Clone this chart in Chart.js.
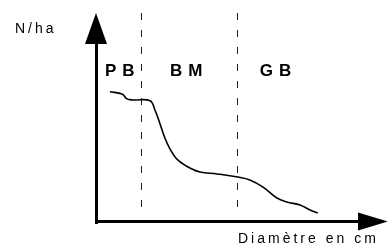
<!DOCTYPE html>
<html>
<head>
<meta charset="utf-8">
<script src="https://cdn.jsdelivr.net/npm/chart.js@4.4.1/dist/chart.umd.min.js"></script>
<style>
  html, body { margin: 0; padding: 0; background: #fff; }
  canvas { display: block; }
</style>
</head>
<body>
<canvas id="chart" width="387" height="244"></canvas>
<script>
// diameter (cm) and stem density (N/ha)
const diameters = [7.6, 11.4, 12.9, 14.8, 20.1, 21.6, 23.2, 24.7, 26.3, 28.1, 30.3, 32.5, 35.6, 40.9, 47.4, 51.1, 55.2, 59.5, 62.6, 66.7, 69.8, 72.2];
const stemsPerHa = [623, 612, 589, 584, 580, 536, 469, 402, 349, 306, 278, 258, 239, 230, 215, 201, 167, 115, 96, 81, 57, 43];

// size classes: petits bois, bois moyens, gros bois
const classLabels = ['PB', 'BM', 'GB'];
const classLimits = [17.5, 47.5];

const yTitle = 'N/ha';
const xTitle = 'Diamètre en cm';

// Draws the hand-made axes with arrows, dashed class limits and the texts
const sketchAxes = {
    id: 'sketchAxes',
    beforeDatasetsDraw(chart) {
        const { ctx, chartArea: a, scales: { x } } = chart;
        ctx.save();
        ctx.strokeStyle = '#222';
        ctx.lineWidth = 1;
        ctx.setLineDash([7, 10]);
        classLimits.forEach(v => {
            const px = Math.round(x.getPixelForValue(v)) - 0.5;
            ctx.beginPath();
            ctx.moveTo(px, a.top);
            ctx.lineTo(px, a.bottom - 5);
            ctx.stroke();
        });
        ctx.restore();
    },
    afterDatasetsDraw(chart, args, opts) {
        const { ctx, chartArea: a, scales: { x, y } } = chart;
        ctx.save();
        ctx.fillStyle = '#000';
        ctx.strokeStyle = '#000';
        ctx.lineWidth = 3;

        // y axis + arrow head
        ctx.beginPath();
        ctx.moveTo(a.left + 0.5, a.bottom + 2);
        ctx.lineTo(a.left + 0.5, a.top + 30);
        ctx.stroke();
        ctx.beginPath();
        ctx.moveTo(a.left - 11, a.top + 31);
        ctx.lineTo(a.left + 11, a.top + 31);
        ctx.lineTo(a.left, a.top);
        ctx.closePath();
        ctx.fill();

        // x axis + arrow head
        ctx.beginPath();
        ctx.moveTo(a.left - 1, a.bottom - 0.5);
        ctx.lineTo(a.right - 28, a.bottom - 0.5);
        ctx.stroke();
        ctx.beginPath();
        ctx.moveTo(a.right - 29, a.bottom - 9.5);
        ctx.lineTo(a.right - 29, a.bottom + 8.5);
        ctx.lineTo(a.right + 1, a.bottom - 0.5);
        ctx.closePath();
        ctx.fill();

        // axis titles
        ctx.font = '14px "Liberation Sans", Arial, sans-serif';
        ctx.letterSpacing = '3px';
        ctx.textBaseline = 'alphabetic';
        ctx.textAlign = 'left';
        ctx.fillText(yTitle, 15, 33);
        ctx.fillText(xTitle, 238, 243);

        // size class labels
        ctx.font = 'bold 17px "Liberation Sans", Arial, sans-serif';
        ctx.letterSpacing = '6px';
        classLabels.forEach((t, i) => {
            ctx.fillText(t, x.getPixelForValue(opts.labelX[i]), y.getPixelForValue(opts.labelY));
        });
        ctx.restore();
    }
};

new Chart(document.getElementById('chart').getContext('2d'), {
    type: 'line',
    data: {
        datasets: [{
            data: diameters.map((d, i) => ({ x: d, y: stemsPerHa[i] })),
            borderColor: '#000',
            borderWidth: 1.6,
            pointRadius: 0,
            fill: false,
            tension: 0.4
        }]
    },
    options: {
        responsive: false,
        animation: false,
        layout: { padding: { left: 96, top: 13, right: 0, bottom: 22 } },
        scales: {
            x: { type: 'linear', min: 3.3, max: 93.7, display: false },
            y: { min: 0, max: 1000, display: false }
        },
        plugins: {
            legend: { display: false },
            tooltip: { enabled: false },
            sketchAxes: { labelX: [6.1, 26.3, 54.2], labelY: 699 }
        }
    },
    plugins: [sketchAxes]
});
</script>
</body>
</html>
